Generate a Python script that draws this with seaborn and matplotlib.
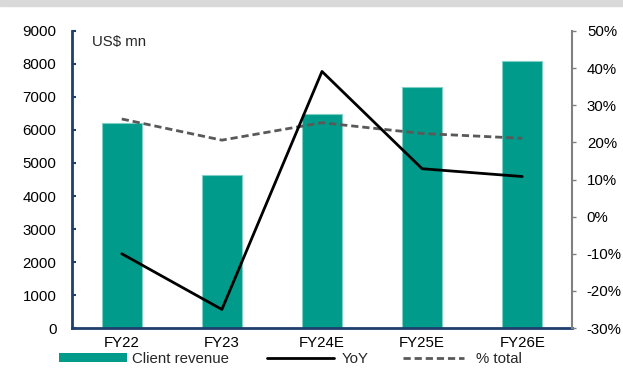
import numpy as np
import pandas as pd
import matplotlib
matplotlib.use("Agg")
import matplotlib.pyplot as plt
import seaborn as sns
from matplotlib.patches import Patch, Rectangle
from matplotlib.lines import Line2D
from matplotlib.ticker import FuncFormatter, FixedLocator

# Data
years = ["FY22", "FY23", "FY24E", "FY25E", "FY26E"]
client_revenue = [6200, 4650, 6470, 7300, 8080]   # US$ mn
yoy = [-10.0, -25.0, 39.1, 12.9, 10.8]            # %
pct_total = [26.3, 20.6, 25.3, 22.4, 21.1]        # %

sns.set_theme(style="white")
plt.rcParams["font.family"] = ["Liberation Sans", "DejaVu Sans"]
FS = 10.8

TEAL = "#009B8A"
NAVY = "#1F3F6E"
GREY_AX = "#808080"
DASH_GREY = "#595959"

df = pd.DataFrame({"year": years, "revenue": client_revenue,
                   "yoy": yoy, "pct": pct_total, "pos": np.arange(len(years))})

fig = plt.figure(figsize=(6.23, 3.69), dpi=100)
# thin grey band across the top
fig.patches.append(Rectangle((0, 1 - 6 / 369), 1, 6 / 369, transform=fig.transFigure,
                             color="#D9D9D9", zorder=0))
ax = fig.add_axes([0.1151, 0.1111, 0.9186 - 0.1151, 0.916 - 0.1111])

sns.barplot(data=df, x="pos", y="revenue", ax=ax, color=TEAL, width=0.4,
            saturation=1, edgecolor="#7FCFC4", linewidth=0.8, zorder=2)
ax.set_xlim(-0.5, len(years) - 0.5)
ax.set_ylim(0, 9000)
ax.set_yticks(np.arange(0, 9001, 1000))
ax.set_yticklabels([str(v) for v in range(0, 9001, 1000)], fontsize=FS)
ax.set_xticks(np.arange(len(years)))
ax.set_xticklabels(years, fontsize=FS)
ax.set_xlabel("")
ax.set_ylabel("")

# category boundary ticks on the x axis
ax.xaxis.set_minor_locator(FixedLocator(np.arange(-0.5, len(years), 1.0)))
ax.tick_params(axis="x", which="major", length=0, pad=6, colors="black")
ax.tick_params(axis="x", which="minor", length=4, width=1.5, color=NAVY, direction="out")
ax.tick_params(axis="y", which="major", length=3, width=1.5, color=NAVY,
               direction="in", pad=11, labelcolor="black")

for side in ["top", "right"]:
    ax.spines[side].set_visible(False)
ax.spines["left"].set_color(NAVY)
ax.spines["left"].set_linewidth(2)
ax.spines["bottom"].set_color(NAVY)
ax.spines["bottom"].set_linewidth(2)
ax.spines["bottom"].set_zorder(5)

fig.text(92 / 623, 1 - 42 / 369, "US$ mn", fontsize=FS, va="center", ha="left")

# Secondary axis for percentages
ax2 = ax.twinx()
sns.lineplot(data=df, x="pos", y="pct", ax=ax2, color=DASH_GREY, lw=2.0,
             linestyle=(0, (2.6, 1.4)), zorder=3)
sns.lineplot(data=df, x="pos", y="yoy", ax=ax2, color="black", lw=2.0, zorder=4)
ax2.set_ylim(-30, 50)
ax2.set_yticks(np.arange(-30, 51, 10))
ax2.yaxis.set_major_formatter(FuncFormatter(lambda v, p: f"{v:.0f}%"))
ax2.tick_params(axis="y", length=3, width=1, color=GREY_AX, direction="out",
                pad=7.5, labelsize=FS, labelcolor="black")
ax2.set_ylabel("")
ax2.set_xlabel("")
for side in ["top", "left", "bottom"]:
    ax2.spines[side].set_visible(False)
ax2.spines["right"].set_color(GREY_AX)
ax2.spines["right"].set_linewidth(1.5)
ax2.set_xlim(-0.5, len(years) - 0.5)

# Legend entries laid out along the bottom
ly = 1 - 359 / 369
entries = [
    (Patch(facecolor=TEAL, edgecolor="none"), "Client revenue", 59, 4.5, 0.4),
    (Line2D([], [], color="black", lw=2.0), "YoY", 267, 4.45, 0.5),
    (Line2D([], [], color=DASH_GREY, lw=2.0, linestyle=(0, (2.6, 1.4))), "% total", 403, 4.05, 0.85),
]
for handle, label, x0, hl, htp in entries:
    fig.legend([handle], [label], loc="center left",
               bbox_to_anchor=(x0 / 623, ly), frameon=False, fontsize=FS,
               borderpad=0, borderaxespad=0, handlelength=hl,
               handleheight=0.6, handletextpad=htp)

fig.savefig("out.png", dpi=100)
